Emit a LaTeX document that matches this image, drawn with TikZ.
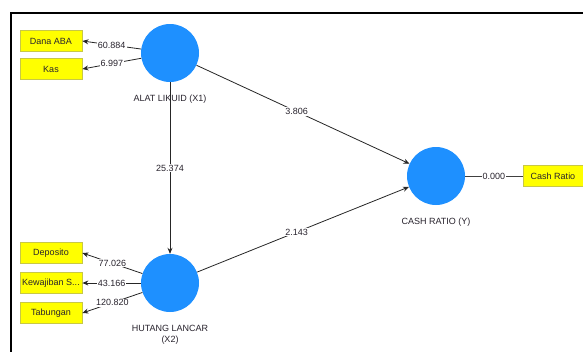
\documentclass[tikz,border=0pt]{standalone}
\usepackage{fontspec}
\setmainfont{Liberation Sans}
\usetikzlibrary{arrows.meta}
\definecolor{lvblue}{RGB}{30,144,255}
\definecolor{boxyel}{RGB}{255,255,0}
\definecolor{boxedge}{RGB}{200,200,70}
\definecolor{txt}{RGB}{40,35,45}
\tikzset{
  lv/.style={circle,fill=lvblue,minimum size=58pt,inner sep=0pt},
  ind/.style={rectangle,fill=boxyel,draw=boxedge,line width=0.8pt,minimum width=62pt,minimum height=21pt,inner sep=0.5pt,font=\fontsize{9}{10.5}\selectfont,text=txt},
  lvlabel/.style={font=\fontsize{9}{11}\selectfont,text=txt,align=center},
  arr/.style={draw=black!85,line width=0.8pt,-{Stealth[length=6pt,width=5pt]}},
  ln/.style={draw=black!75,line width=0.8pt},
  val/.style={fill=white,inner sep=1pt,font=\fontsize{9}{10.5}\selectfont,text=txt},
}
\begin{document}
\begin{tikzpicture}[x=1pt,y=-1pt]
\useasboundingbox (0,0) rectangle (583,351);
\fill[white] (0,0) rectangle (583,351);
% frame
\draw[line width=2.6pt,black] (583,13) -- (11,13) -- (11,352);
% latent variables
\node[lv] (x1) at (170,53) {};
\node[lv] (x2) at (170,283) {};
\node[lv] (y) at (436,176) {};
\node[lvlabel] (x1l) at (170,99) {ALAT LIKUID (X1)};
\node[lvlabel] (x2l) at (170,335) {HUTANG LANCAR\\(X2)};
\node[lvlabel] (yl) at (436,222) {CASH RATIO (Y)};
% indicators
\node[ind] (dana) at (51,41) {Dana ABA};
\node[ind] (kas) at (51,69) {Kas};
\node[ind] (dep) at (51,253) {Deposito};
\node[ind] (kew) at (51,283) {Kewajiban S...};
\node[ind] (tab) at (51,313) {Tabungan};
\node[ind,minimum width=60pt] (cr) at (553,176) {Cash Ratio};
% outer loadings
\draw[arr] (x1) -- node[val,pos=0.5] {60.884} (dana.east);
\draw[arr] (x1) -- node[val,pos=0.5] {6.997} (kas.east);
\draw[arr] (x2) -- node[val,pos=0.5] {77.026} (dep.east);
\draw[arr] (x2) -- node[val,pos=0.5] {43.166} (kew.east);
\draw[arr] (x2) -- node[val,pos=0.5] {120.820} (tab.east);
\draw[ln] (y) -- node[val,pos=0.5] {0.000} (cr.west);
% inner paths
\draw[arr] (x1) -- node[val,pos=0.5] {25.374} (x2);
\draw[arr] (x1) -- node[val,pos=0.47] {3.806} (y);
\draw[arr] (x2) -- node[val,pos=0.47] {2.143} (y);
\end{tikzpicture}
\end{document}
